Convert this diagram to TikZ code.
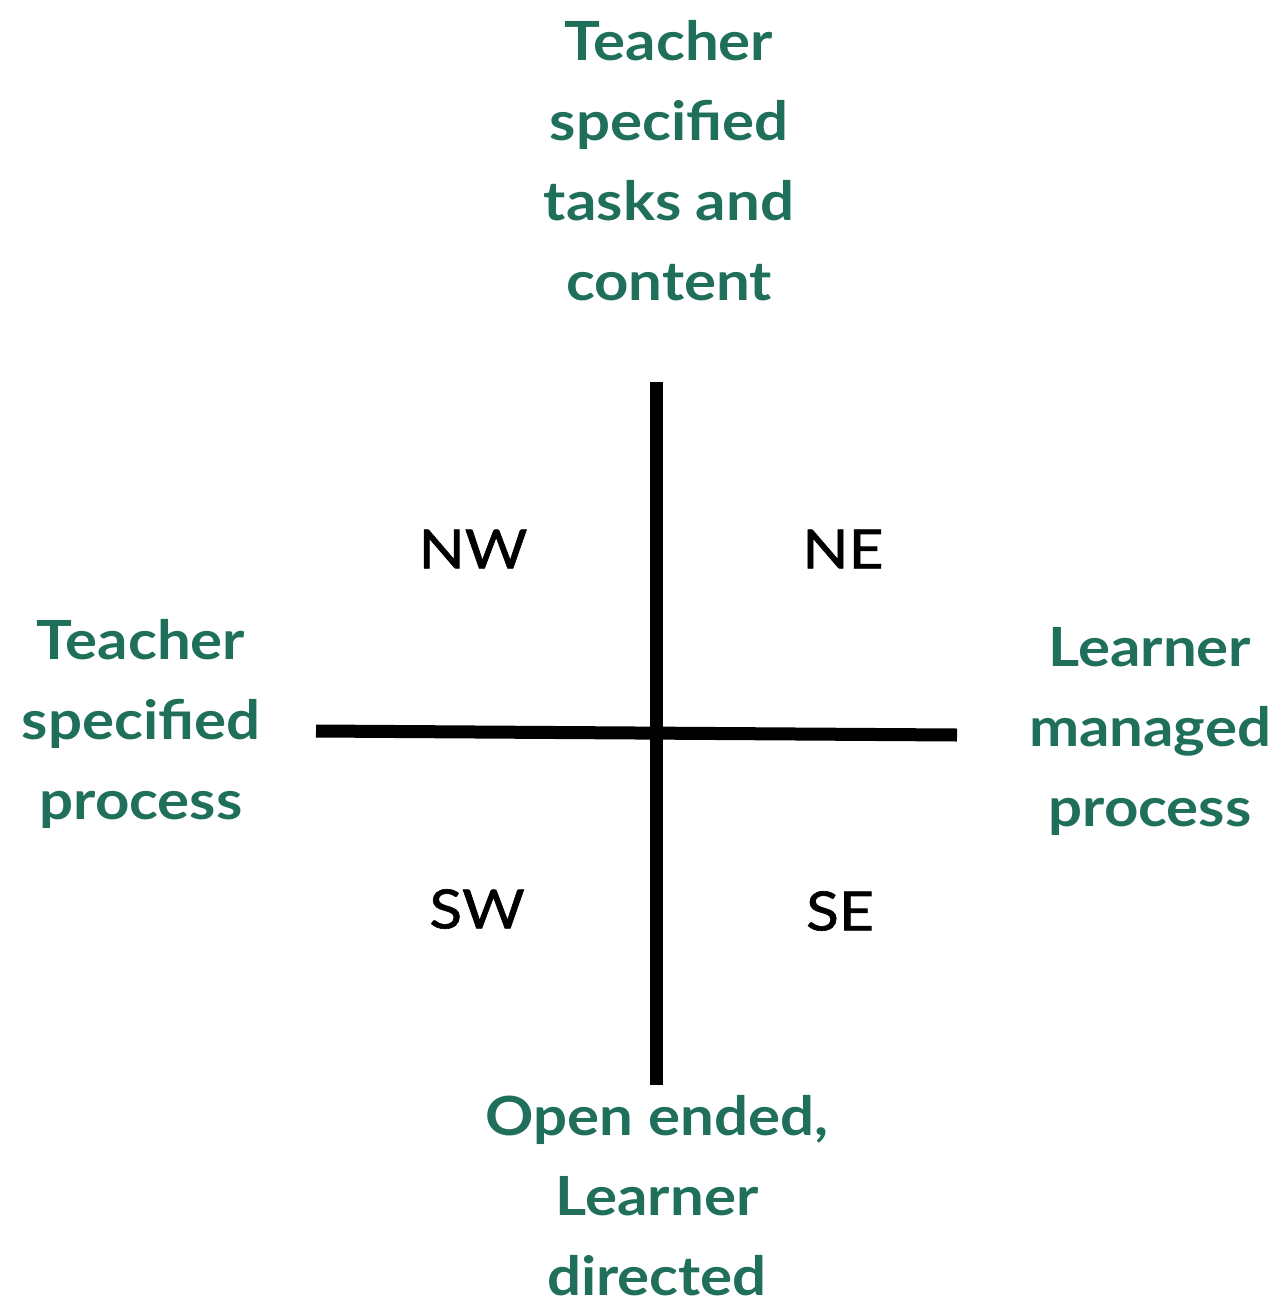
\documentclass[tikz,border=0pt]{standalone}
\usepackage{fontspec}
\setmainfont{Lato}[FakeStretch=1.11]
\newfontfamily\quadfont{Lato}[FakeStretch=1.12,FakeBold=1.2]
\definecolor{axisgreen}{HTML}{1F6F5A}
\begin{document}
\begin{tikzpicture}[x=1pt,y=-1pt,
  pole/.style={font=\fontsize{54}{80}\selectfont\bfseries, text=axisgreen, align=center, inner sep=0pt},
  quad/.style={font=\quadfont\fontsize{54}{60}\selectfont, text=black, inner sep=0pt},
  axis/.style={line width=13pt, draw=black}]
\useasboundingbox (0,0) rectangle (1284,1300);
\coordinate (vt) at (656,382);
\coordinate (vb) at (656,1085);
\coordinate (hl) at (316,731);
\coordinate (hr) at (957,735);
\draw[axis] (vt) -- (vb);
\draw[axis] (hl) -- (hr);
\node[pole] (top) at (669,161) {Teacher\\specified\\tasks and\\content};
\node[pole] (left) at (141,724) {Teacher\\specified\\process};
\node[pole] (right) at (1150,731) {Learner\\managed\\process};
\node[pole] (bottom) at (657,1196) {Open ended,\\Learner\\directed};
\node[quad] (nw) at (473,549) {NW};
\node[quad] (ne) at (843,549) {NE};
\node[quad] (sw) at (477,909) {SW};
\node[quad] (se) at (840,911) {SE};
\end{tikzpicture}
\end{document}
